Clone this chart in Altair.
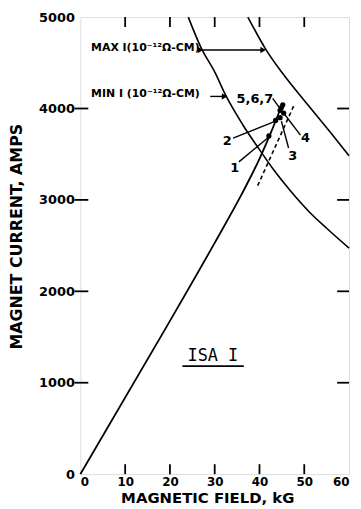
import altair as alt
import pandas as pd

# ---- data ----
main_x = [0, 19.3, 30, 36, 40, 42.5, 44.7]
main_y = [0, 1616, 2530, 3060, 3450, 3730, 4000]

dash_x = [39.6, 47.8]
dash_y = [3156, 4045]

min_x = [24.1, 27.0, 30.0, 32.5, 36.3, 40.0, 43.0, 46.9, 51.3, 55.0, 60]
min_y = [5000, 4660, 4400, 4140, 3820, 3550, 3340, 3100, 2860, 2690, 2473]

max_x = [37.4, 39.2, 41.2, 45.2, 50.7, 55.6, 60]
max_y = [5000, 4837, 4664, 4382, 4046, 3753, 3482]

pt_x = [42.1, 43.6, 44.6, 45.4, 44.6, 44.9, 45.2]
pt_y = [3700, 3870, 3900, 3950, 3980, 4010, 4040]

num_text = ["5,6,7", "2", "1", "3", "4"]
num_x = [38.97, 32.8, 34.5, 47.4, 50.3]
num_y = [4100, 3644, 3351, 3482, 3677]
lead_x1 = [42.95, 34.1, 35.4, 46.5, 49.15]
lead_y1 = [4111, 3677, 3416, 3568, 3709]
lead_x2 = [44.72, 43.6, 42.1, 44.9, 45.6]
lead_y2 = [3991, 3861, 3688, 3861, 3937]

lab_text = ["MAX I(10\u207b\u00b9\u00b2\u03a9-CM)", "MIN I (10\u207b\u00b9\u00b2\u03a9-CM)"]
lab_x = [2.4, 2.4]
lab_y = [4660, 4154]
arr_x1 = [26.6, 29.0]
arr_x2 = [40.8, 32.2]
arr_y = [4640, 4132]
head_x = [26.8, 40.8, 32.2]
head_y = [4640, 4640, 4132]

isa_text = ["ISA  I"]
isa_x = [29.6]
isa_y = [1290]
isa_ul_x1 = [22.8]
isa_ul_x2 = [36.5]
isa_ul_y = [1182]

x_ticks = [10, 20, 30, 40, 50]
y_ticks = [1000, 2000, 3000, 4000]
x_labels = [0, 10, 20, 30, 40, 50, 60]
y_labels = [0, 1000, 2000, 3000, 4000, 5000]

W, H = 271, 461
FONT = "DejaVu Sans"

xs = alt.Scale(domain=[0, 60], nice=False, zero=False)
ys = alt.Scale(domain=[0, 5000], nice=False, zero=False)

X_AX = alt.Axis(values=x_labels, ticks=False, domain=False, grid=False, format="d",
                labelFont=FONT, labelFontSize=12, labelFontWeight="bold",
                labelPadding=2, labelColor="black",
                title="MAGNETIC FIELD, kG", titleFont=FONT, titleFontSize=15,
                titleFontWeight="bold", titleColor="black",
                titleX=128, titleY=23.5, titleAlign="center", titleBaseline="middle")
Y_AX = alt.Axis(values=y_labels, ticks=False, domain=False, grid=False, format="d",
                labelFont=FONT, labelFontSize=13, labelFontWeight="bold",
                labelPadding=6, labelColor="black",
                title="MAGNET CURRENT, AMPS", titleFont=FONT, titleFontSize=16,
                titleFontWeight="bold", titleColor="black",
                titleX=-64, titleY=221, titleAngle=270,
                titleAlign="center", titleBaseline="middle")

def line_df(x, y):
    return pd.DataFrame({"x": x, "y": y})

base_main = alt.Chart(line_df(main_x, main_y)).mark_line(
    color="black", strokeWidth=1.8, interpolate="monotone").encode(
    x=alt.X("x:Q", scale=xs, axis=X_AX),
    y=alt.Y("y:Q", scale=ys, axis=Y_AX),
)
dash = alt.Chart(line_df(dash_x, dash_y)).mark_line(color="black", strokeWidth=1.6, strokeDash=[4, 3]).encode(
    x=alt.X("x:Q", scale=xs), y=alt.Y("y:Q", scale=ys))
min_c = alt.Chart(line_df(min_x, min_y)).mark_line(color="black", strokeWidth=1.6, interpolate="monotone").encode(
    x=alt.X("x:Q", scale=xs), y=alt.Y("y:Q", scale=ys))
max_c = alt.Chart(line_df(max_x, max_y)).mark_line(color="black", strokeWidth=1.6, interpolate="monotone").encode(
    x=alt.X("x:Q", scale=xs), y=alt.Y("y:Q", scale=ys))
pts = alt.Chart(line_df(pt_x, pt_y)).mark_circle(color="black", size=28, opacity=1).encode(
    x=alt.X("x:Q", scale=xs), y=alt.Y("y:Q", scale=ys))

nums = alt.Chart(pd.DataFrame({"x": num_x, "y": num_y, "t": num_text})).mark_text(
    font=FONT, fontSize=13, fontWeight="bold", color="black", align="center", baseline="middle").encode(
    x=alt.X("x:Q", scale=xs), y=alt.Y("y:Q", scale=ys), text="t:N")
leads = alt.Chart(pd.DataFrame({"x": lead_x1, "y": lead_y1, "x2": lead_x2, "y2": lead_y2})).mark_rule(
    color="black", strokeWidth=1.4).encode(
    x=alt.X("x:Q", scale=xs), y=alt.Y("y:Q", scale=ys), x2="x2:Q", y2="y2:Q")

labs = alt.Chart(pd.DataFrame({"x": lab_x, "y": lab_y, "t": lab_text})).mark_text(
    font=FONT, fontSize=11, fontWeight="bold", color="black", align="left", baseline="middle").encode(
    x=alt.X("x:Q", scale=xs), y=alt.Y("y:Q", scale=ys), text="t:N")
arrows = alt.Chart(pd.DataFrame({"x": arr_x1, "x2": arr_x2, "y": arr_y})).mark_rule(
    color="black", strokeWidth=1.4).encode(
    x=alt.X("x:Q", scale=xs), x2="x2:Q", y=alt.Y("y:Q", scale=ys))
heads = alt.Chart(pd.DataFrame({"x": head_x, "y": head_y})).mark_point(
    shape="triangle-right", filled=True, color="black", size=40, opacity=1).encode(
    x=alt.X("x:Q", scale=xs), y=alt.Y("y:Q", scale=ys))

isa = alt.Chart(pd.DataFrame({"x": isa_x, "y": isa_y, "t": isa_text})).mark_text(
    font="DejaVu Sans Mono", fontSize=17, color="black", align="center", baseline="middle").encode(
    x=alt.X("x:Q", scale=xs), y=alt.Y("y:Q", scale=ys), text="t:N")
isa_ul = alt.Chart(pd.DataFrame({"x": isa_ul_x1, "x2": isa_ul_x2, "y": isa_ul_y})).mark_rule(
    color="black", strokeWidth=1.8).encode(
    x=alt.X("x:Q", scale=xs), x2="x2:Q", y=alt.Y("y:Q", scale=ys))

xt = pd.DataFrame({"v": x_ticks})
yt = pd.DataFrame({"v": y_ticks})
tick_b = alt.Chart(xt).mark_rule(color="black", strokeWidth=1.8).encode(
    x=alt.X("v:Q", scale=xs), y=alt.value(H), y2=alt.value(H - 10))
tick_t = alt.Chart(xt).mark_rule(color="black", strokeWidth=1.8).encode(
    x=alt.X("v:Q", scale=xs), y=alt.value(0), y2=alt.value(10))
tick_l = alt.Chart(yt).mark_rule(color="black", strokeWidth=1.8).encode(
    y=alt.Y("v:Q", scale=ys), x=alt.value(-6), x2=alt.value(8))
tick_r = alt.Chart(yt).mark_rule(color="black", strokeWidth=1.8).encode(
    y=alt.Y("v:Q", scale=ys), x=alt.value(W - 12), x2=alt.value(W))

chart = alt.layer(
    base_main, dash, min_c, max_c, pts, leads, nums, labs, arrows, heads, isa, isa_ul,
    tick_b, tick_t, tick_l, tick_r
).properties(
    width=W, height=H,
    autosize=alt.AutoSizeParams(type="none"),
    padding={"left": 73, "top": 7, "right": 4, "bottom": 33},
).configure_view(
    stroke="black", strokeWidth=2
).configure(background="white")

chart.save("out.html", embed_options={"renderer": "svg", "actions": False})
